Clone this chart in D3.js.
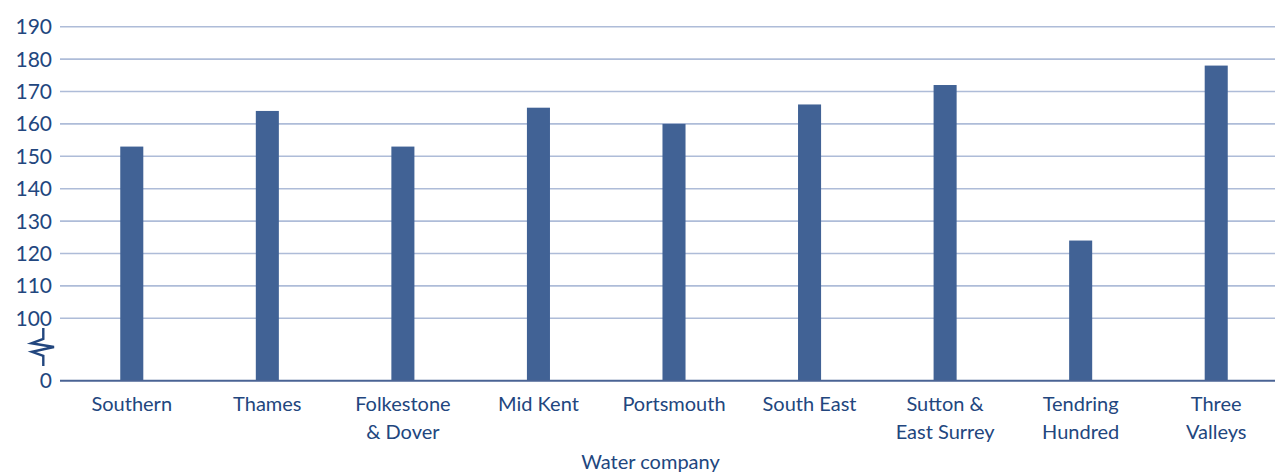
<!DOCTYPE html>
<html>
<head>
<meta charset="utf-8">
<script src="https://cdn.jsdelivr.net/npm/d3@7"></script>
<style>
  body { margin: 0; background: #fff; }
  text { font-family: Lato, "Open Sans", sans-serif; fill: #22467e; }
</style>
</head>
<body>
<script>
// water companies and their values
const companies = ['Southern', 'Thames', 'Folkestone\n& Dover', 'Mid Kent', 'Portsmouth',
    'South East', 'Sutton &\nEast Surrey', 'Tendring\nHundred', 'Three\nValleys'];
const values = [153, 164, 153, 165, 160, 166, 172, 124, 178];
const yTicks = [0, 100, 110, 120, 130, 140, 150, 160, 170, 180, 190];
const xTitle = 'Water company';

const outerWidth = 1275;
const outerHeight = 474;

const svg = d3.select('body')
  .append('svg')
  .attr('width', outerWidth)
  .attr('height', outerHeight);

// broken axis: 0 -> 100 squeezed into a short stretch
const yScale = d3.scaleLinear()
    .domain([0, 100, 190])
    .range([380.7, 318.3, 26.7]);

const xScale = d3.scaleBand()
    .domain(companies)
    .range([64, 1284])
    .paddingInner(0.83)
    .paddingOuter(0.415);

// gridlines
svg.append('g')
    .selectAll('line')
    .data(yTicks.filter(d => d > 0))
    .enter()
    .append('line')
    .attr('x1', 60)
    .attr('x2', outerWidth)
    .attr('y1', d => yScale(d))
    .attr('y2', d => yScale(d))
    .attr('stroke', '#aebcd8')
    .attr('stroke-width', 1.6);

// bars
svg.selectAll('rect')
    .data(values)
    .enter()
    .append('rect')
    .attr('x', (d, i) => xScale(companies[i]))
    .attr('y', d => yScale(d))
    .attr('width', xScale.bandwidth())
    .attr('height', d => yScale(0) - yScale(d))
    .attr('fill', '#416295');

// baseline
svg.append('line')
    .attr('x1', 60)
    .attr('x2', outerWidth)
    .attr('y1', yScale(0))
    .attr('y2', yScale(0))
    .attr('stroke', '#4a6394')
    .attr('stroke-width', 2);

// y tick labels
svg.append('g')
    .selectAll('text')
    .data(yTicks)
    .enter()
    .append('text')
    .attr('x', 52)
    .attr('y', d => yScale(d))
    .attr('dy', '0.36em')
    .attr('text-anchor', 'end')
    .attr('font-size', 21)
    .text(d => d);

// axis break symbol
svg.append('path')
    .attr('d', 'M43.3,328 L43.3,339 L31.5,343.3 L54,347 L32,351.8 L43.3,355.8 L43.3,366')
    .attr('fill', 'none')
    .attr('stroke', '#22467e')
    .attr('stroke-width', 2.4)
    .attr('stroke-linejoin', 'miter');

// x labels (may be two lines)
const xLabels = svg.append('g')
    .selectAll('text')
    .data(companies)
    .enter()
    .append('text')
    .attr('x', d => xScale(d) + xScale.bandwidth() / 2)
    .attr('y', 411)
    .attr('text-anchor', 'middle')
    .attr('font-size', 20);

xLabels.selectAll('tspan')
    .data(d => d.split('\n'))
    .enter()
    .append('tspan')
    .attr('x', function() { return this.parentNode.getAttribute('x'); })
    .attr('dy', (d, i) => i === 0 ? 0 : 27.5)
    .text(d => d);

svg.append('text')
    .attr('x', 650.5)
    .attr('y', 469)
    .attr('text-anchor', 'middle')
    .attr('font-size', 20)
    .text(xTitle);
</script>
</body>
</html>
